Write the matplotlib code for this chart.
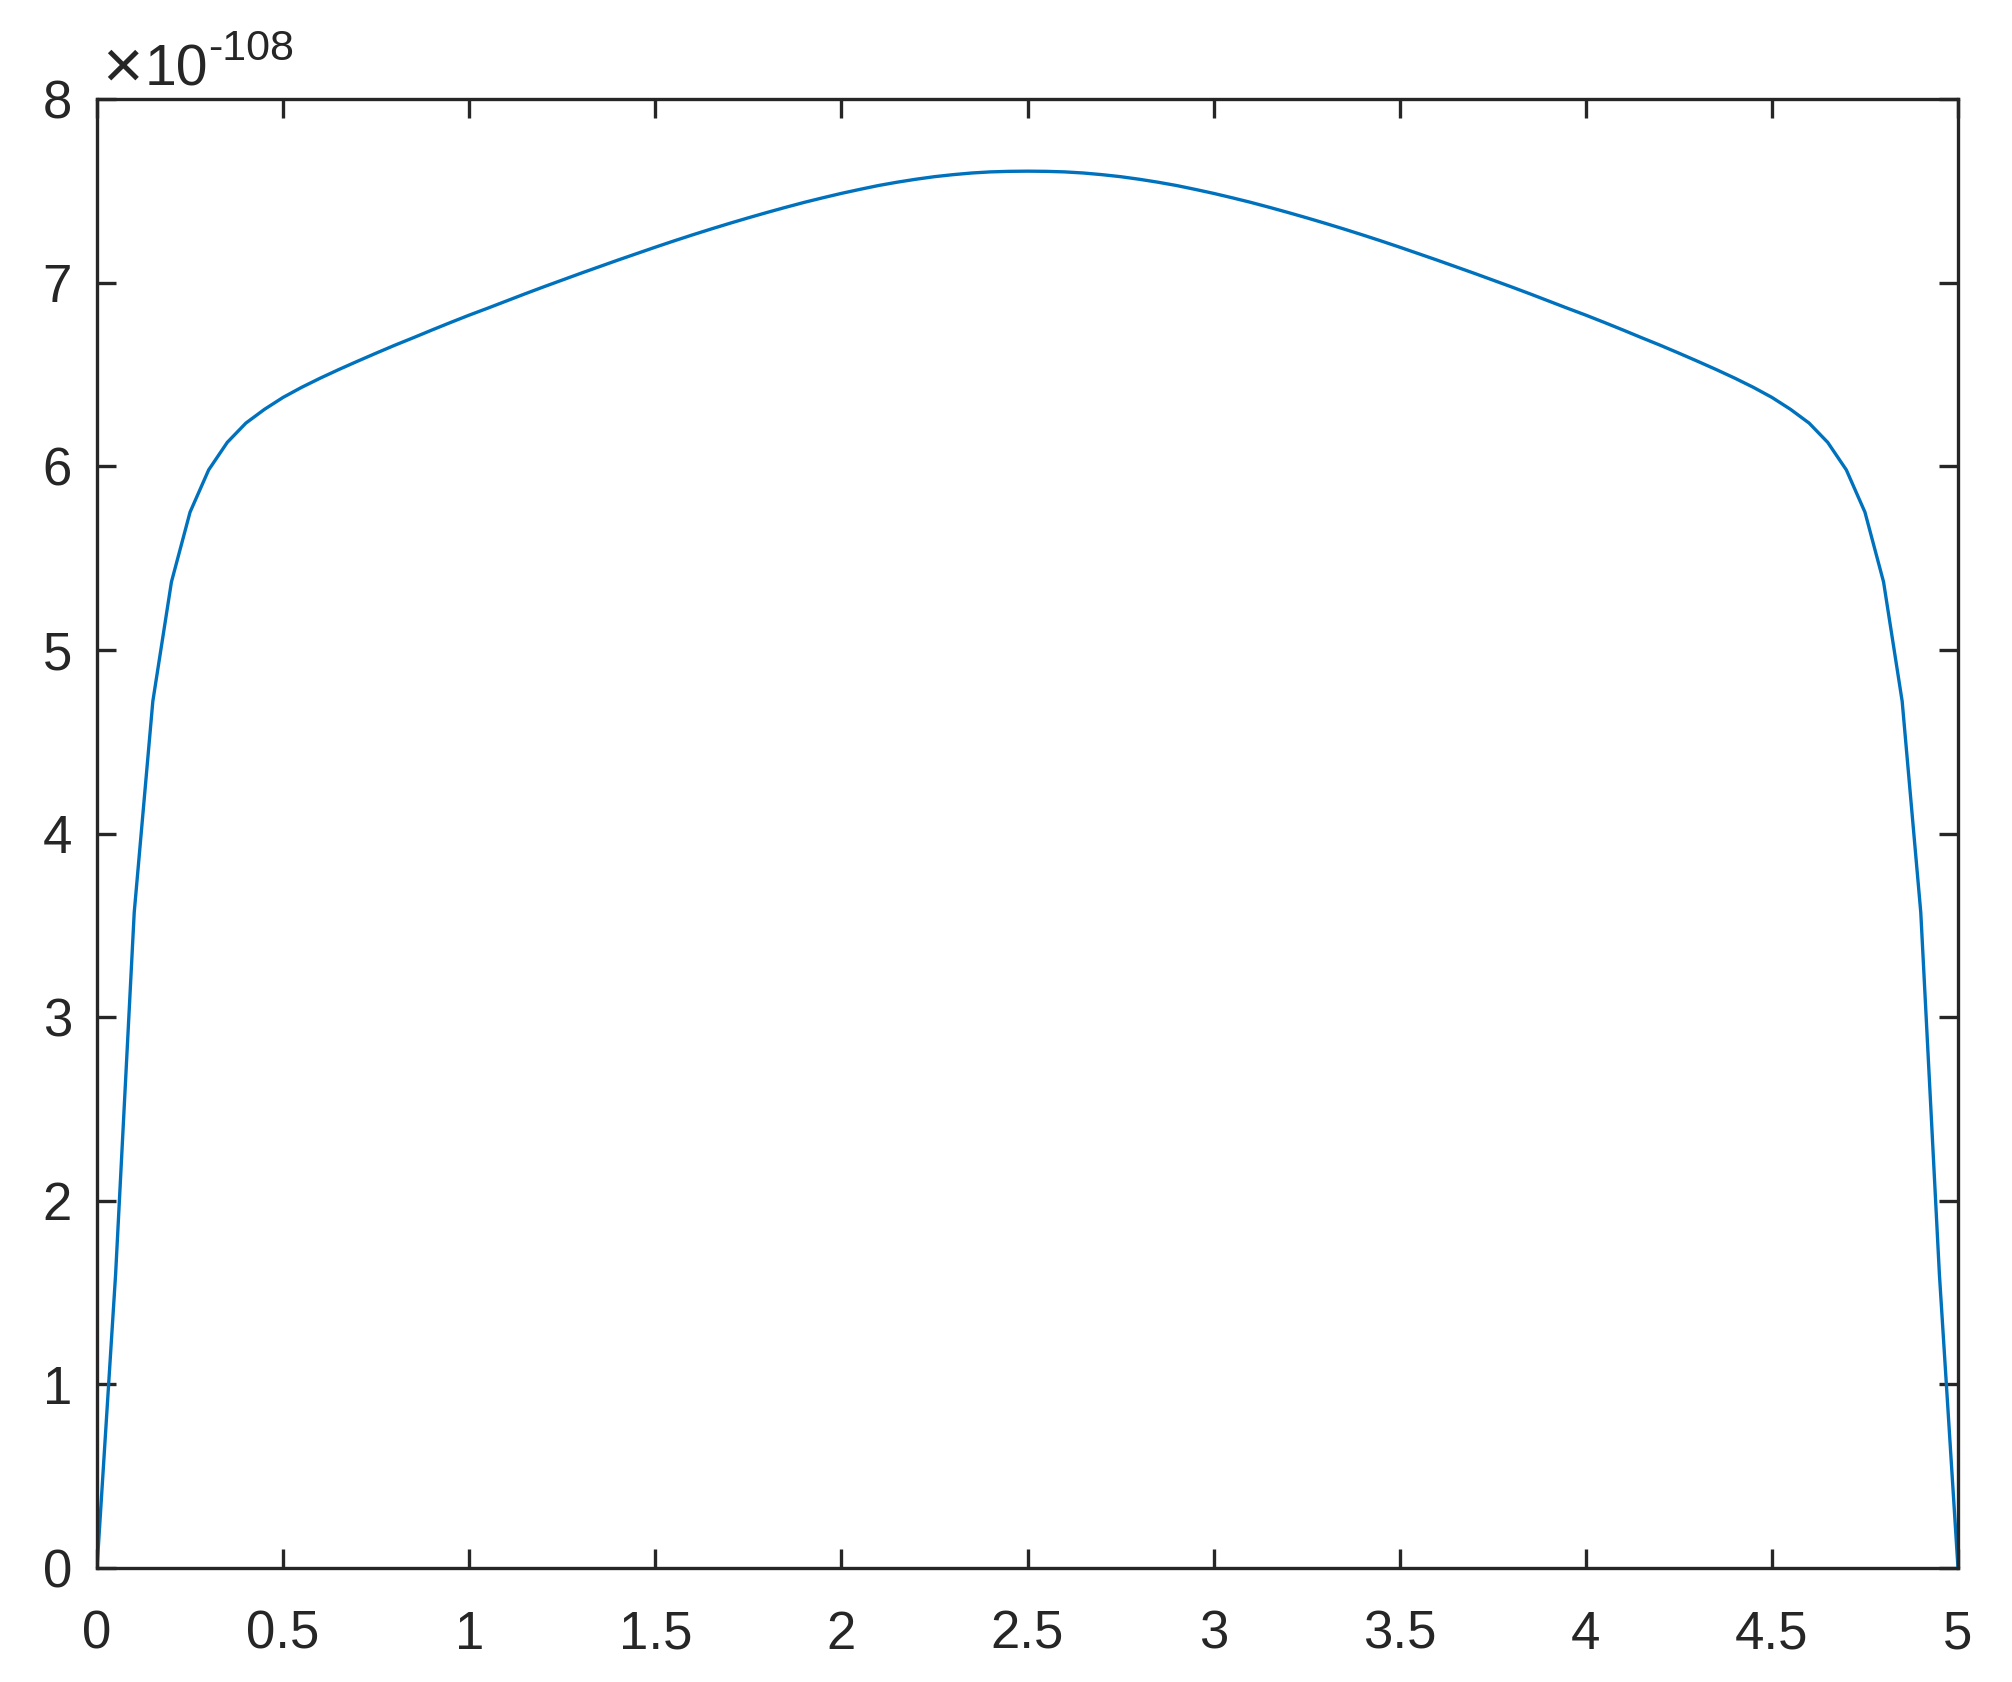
import numpy as np
import matplotlib
matplotlib.use("Agg")
import matplotlib.pyplot as plt

# ---- data (y in units of 1e-108) ----
x_step = 0.05
exponent = -108
y_vals = [
    0.0, 1.60, 3.57, 4.72, 5.37, 5.75, 5.98, 6.13, 6.235, 6.31,
    6.375, 6.43, 6.48, 6.527, 6.572, 6.616, 6.659, 6.70, 6.742, 6.783,
    6.823, 6.861, 6.90, 6.939, 6.977, 7.014, 7.051, 7.087, 7.123, 7.158,
    7.193, 7.227, 7.26, 7.292, 7.323, 7.353, 7.382, 7.41, 7.437, 7.462,
    7.486, 7.508, 7.529, 7.547, 7.563, 7.577, 7.588, 7.597, 7.603, 7.606,
    7.607,
    7.606, 7.603, 7.597, 7.588, 7.577, 7.563, 7.547, 7.529, 7.508, 7.486,
    7.462, 7.437, 7.41, 7.382, 7.353, 7.323, 7.292, 7.26, 7.227, 7.193,
    7.158, 7.123, 7.087, 7.051, 7.014, 6.977, 6.939, 6.90, 6.861, 6.823,
    6.783, 6.742, 6.70, 6.659, 6.616, 6.572, 6.527, 6.48, 6.43, 6.375,
    6.31, 6.235, 6.13, 5.98, 5.75, 5.37, 4.72, 3.57, 1.60, 0.0,
]
x_vals = np.arange(len(y_vals)) * x_step

x_ticks = [0, 0.5, 1, 1.5, 2, 2.5, 3, 3.5, 4, 4.5, 5]
x_ticklabels = ["0", "0.5", "1", "1.5", "2", "2.5", "3", "3.5", "4", "4.5", "5"]
y_ticks = [0, 1, 2, 3, 4, 5, 6, 7, 8]
y_ticklabels = ["0", "1", "2", "3", "4", "5", "6", "7", "8"]

# ---- style ----
plt.rcParams['font.family'] = ['Liberation Sans', 'DejaVu Sans']
dark = '#262626'
line_color = '#0072BD'

W, H, DPI = 2012, 1682, 200
fig = plt.figure(figsize=(W / DPI, H / DPI), dpi=DPI)
left, right, top, bottom = 97, 1958, 99, 1568
ax = fig.add_axes([left / W, 1 - bottom / H, (right - left) / W, (bottom - top) / H])

ax.plot(x_vals, y_vals, color=line_color, linewidth=1.2)

ax.set_xlim(0, 5)
ax.set_ylim(0, 8)
ax.set_xticks(x_ticks)
ax.set_xticklabels(x_ticklabels)
ax.set_yticks(y_ticks)
ax.set_yticklabels(y_ticklabels)

for s in ax.spines.values():
    s.set_color(dark)
    s.set_linewidth(1.2)

ax.tick_params(axis='both', which='major', direction='in', length=7, width=1.2,
               color=dark, labelcolor=dark, labelsize=19,
               top=True, right=True)
ax.tick_params(axis='x', pad=15)
ax.tick_params(axis='y', pad=9)

# exponent label
fig.text(102 / W, 1 - 88 / H, "\u00d7", fontsize=25, color=dark,
         ha='left', va='baseline')
fig.text(145 / W, 1 - 86 / H, "10", fontsize=20.5, color=dark,
         ha='left', va='baseline')
fig.text(208 / W, 1 - 60 / H, "-%d" % abs(exponent), fontsize=15.5, color=dark,
         ha='left', va='baseline')

fig.savefig("out.png", dpi=DPI)
